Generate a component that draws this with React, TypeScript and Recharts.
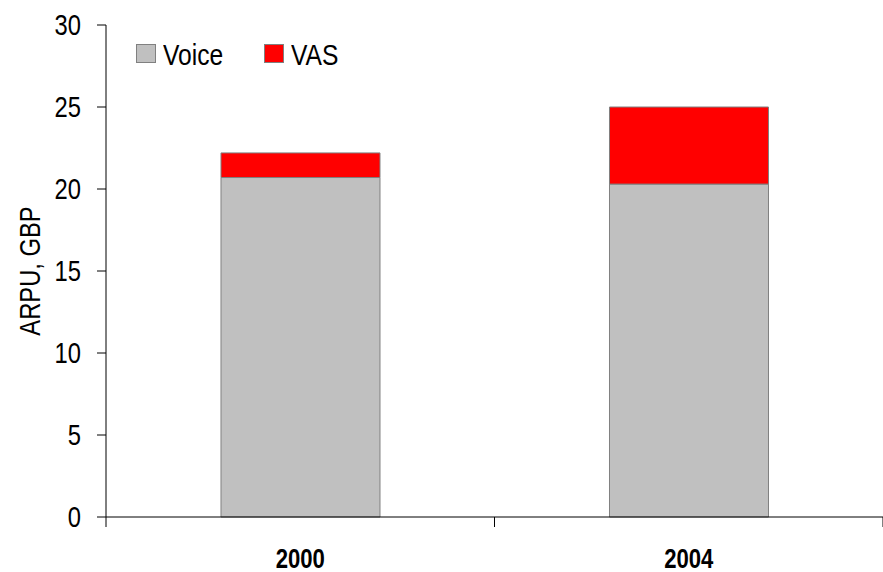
import React from "react";
import { BarChart, Bar, XAxis, YAxis } from "recharts";

const years = ["2000", "2004"];
const voice = [20.7, 20.3];
const vas = [1.5, 4.7];
const yTicks = [0, 5, 10, 15, 20, 25, 30];
const legendItems = [
  { name: "Voice", color: "#C0C0C0" },
  { name: "VAS", color: "#FF0000" },
];

const data = years.map((year, i) => ({ year, Voice: voice[i], VAS: vas[i] }));

const FONT = "'Liberation Sans', Arial, sans-serif";
// squeeze Liberation Sans horizontally to look like Arial Narrow
const NARROW = 0.82;

function NarrowText({ x, y, size, anchor = "middle", bold = false, rotate = 0, dy = 0, children }: any) {
  return (
    <text
      transform={`translate(${x},${y}) rotate(${rotate}) scale(${NARROW},1)`}
      textAnchor={anchor}
      dy={dy}
      fontFamily={FONT}
      fontSize={size}
      fontWeight={bold ? "bold" : "normal"}
      fill="#000"
    >
      {children}
    </text>
  );
}

function YearTick(props: any) {
  const { x, y, payload, index } = props;
  const band = 777 / years.length;
  return (
    <g>
      <line x1={x - band / 2} x2={x - band / 2} y1={y - 8} y2={y + 2} stroke="#000" />
      {index === years.length - 1 && (
        <line x1={x + band / 2} x2={x + band / 2} y1={y - 8} y2={y + 2} stroke="#000" />
      )}
      <NarrowText x={x} y={y + 43} size={27} bold>
        {payload.value}
      </NarrowText>
    </g>
  );
}

function ValueTick(props: any) {
  const { x, y, payload } = props;
  return (
    <NarrowText x={x} y={y} size={29} anchor="end" dy="0.36em">
      {payload.value}
    </NarrowText>
  );
}

function LegendBox() {
  return (
    <div
      style={{
        position: "absolute",
        left: 136,
        top: 44,
        width: 260,
        height: 20,
        fontFamily: FONT,
        fontSize: 30,
        lineHeight: "20px",
      }}
    >
      {legendItems.map((it, i) => (
        <div key={it.name} style={{ position: "absolute", left: i * 128, top: 0, height: 20 }}>
          <span
            style={{
              position: "absolute",
              left: 0,
              top: 0,
              width: 18,
              height: 17,
              background: it.color,
              border: "1px solid #808080",
            }}
          />
          <span
            style={{
              position: "absolute",
              left: 27,
              top: 1,
              whiteSpace: "nowrap",
              transform: `scaleX(${NARROW})`,
              transformOrigin: "left center",
              color: "#000",
            }}
          >
            {it.name}
          </span>
        </div>
      ))}
    </div>
  );
}

export default function App() {
  return (
    <div style={{ position: "absolute", left: 0, top: 0, width: 883, height: 572, background: "#fff" }}>
      <BarChart
        width={883}
        height={572}
        data={data}
        margin={{ top: 25, right: 0, bottom: 0, left: 0 }}
        barCategoryGap="29.6%"
      >
        <XAxis
          dataKey="year"
          axisLine={{ stroke: "#000" }}
          tickLine={false}
          tick={<YearTick />}
          height={55}
        />
        <YAxis
          width={106}
          domain={[0, 30]}
          ticks={yTicks}
          axisLine={{ stroke: "#000" }}
          tickLine={{ stroke: "#000" }}
          tickSize={9}
          tickMargin={16}
          tick={<ValueTick />}
          label={{
            content: ({ viewBox }: any) => (
              <NarrowText x={40} y={viewBox.y + viewBox.height / 2} size={29} rotate={-90}>
                ARPU, GBP
              </NarrowText>
            ),
          }}
        />
        <Bar dataKey="Voice" stackId="a" fill="#C0C0C0" stroke="#808080" strokeWidth={1} isAnimationActive={false} />
        <Bar dataKey="VAS" stackId="a" fill="#FF0000" stroke="#808080" strokeWidth={1} isAnimationActive={false} />
      </BarChart>
      <LegendBox />
    </div>
  );
}
